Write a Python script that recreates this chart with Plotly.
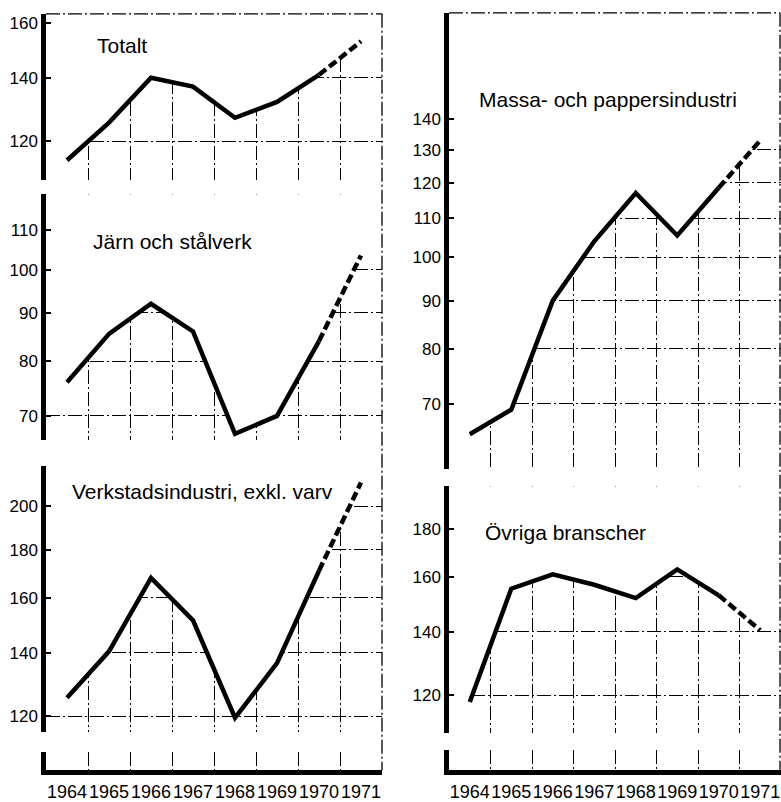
import math
import plotly.graph_objects as go

W, H = 781, 802

# data (index values, log scale)
years = [1964, 1965, 1966, 1967, 1968, 1969, 1970, 1971]
year_labels = ["1964", "1965", "1966", "1967", "1968", "1969", "1970", "1971"]
boundaries = [1964.5, 1965.5, 1966.5, 1967.5, 1968.5, 1969.5, 1970.5]

totalt = [114.5, 125.5, 140, 137, 127, 132, 141, 153]
jarn_stal = [76, 85.5, 92, 86, 67, 70, 84, 103.5]
verkstad = [125.5, 140.5, 168, 151.5, 119.5, 136.5, 171, 212]
massa_papper = [65, 69, 90, 104, 117, 105.5, 118.5, 133]
ovriga = [118, 155.5, 161, 157, 152, 163, 153, 140.5]

ticks_totalt = [120, 140, 160]
ticks_jarn = [70, 80, 90, 100, 110]
ticks_verkstad = [120, 140, 160, 180, 200]
ticks_massa = [70, 80, 90, 100, 110, 120, 130, 140]
ticks_ovriga = [120, 140, 160, 180]

# layout constants (pixels)
PX_PER_DECADE = 958
X_LO, X_HI = 1963.5, 1971.5
LEFT_X = (46, 382)
RIGHT_X = (449, 781)
FONT = "Liberation Sans"
DASHDOT = "14px,3px,2px,3px"


def xp(px):
    return px / W


def yp(py):
    return 1 - py / H


panels = [
    dict(n=1, values=totalt, ticks=ticks_totalt, title="Totalt", xdom=LEFT_X,
         top=14, bottom=182, ref=(120, 143), title_xy=(95, 46)),
    dict(n=2, values=jarn_stal, ticks=ticks_jarn, title="Järn och stålverk", xdom=LEFT_X,
         top=197, bottom=446, ref=(100, 273.3), title_xy=(91, 245)),
    dict(n=3, values=verkstad, ticks=ticks_verkstad, title="Verkstadsindustri, exkl. varv", xdom=LEFT_X,
         top=472, bottom=742, ref=(120, 726), title_xy=(70, 498)),
    dict(n=5, values=massa_papper, ticks=ticks_massa, title="Massa- och pappersindustri", xdom=RIGHT_X,
         top=13, bottom=476, ref=(100, 261), title_xy=(477, 101)),
    dict(n=6, values=ovriga, ticks=ticks_ovriga, title="Övriga branscher", xdom=RIGHT_X,
         top=493, bottom=743, ref=(160, 585), title_xy=(483, 540)),
]

strips = [
    dict(n=4, xdom=LEFT_X, top=762, bottom=781),
    dict(n=7, xdom=RIGHT_X, top=760, bottom=781),
]

grid = dict(gridcolor="black", gridwidth=1.3, griddash=DASHDOT)

fig = go.Figure()
layout = {}
annotations = []

for p in panels:
    n = p["n"]
    xa, ya = f"x{n}", f"y{n}"
    ref_val, ref_px = p["ref"]
    lo = math.log10(ref_val) - (p["bottom"] - ref_px) / PX_PER_DECADE
    hi = math.log10(ref_val) + (ref_px - p["top"]) / PX_PER_DECADE
    vals = p["values"]

    # white area above the curve hides the grid there, as in the original print
    top_val = 10 ** hi
    fig.add_trace(go.Scatter(
        x=[X_LO] + years + [X_HI, X_HI, X_LO],
        y=[vals[0]] + vals + [vals[-1], top_val, top_val],
        fill="toself", fillcolor="white", mode="lines", line=dict(width=0),
        hoverinfo="skip", showlegend=False, xaxis=xa, yaxis=ya))
    fig.add_trace(go.Scatter(
        x=years[:7], y=vals[:7], mode="lines",
        line=dict(color="black", width=4.5), showlegend=False, xaxis=xa, yaxis=ya))
    fig.add_trace(go.Scatter(
        x=years[6:], y=vals[6:], mode="lines",
        line=dict(color="black", width=4.5, dash="9px,4px"), showlegend=False, xaxis=xa, yaxis=ya))

    layout[f"xaxis{n}"] = dict(
        domain=[xp(p["xdom"][0]), xp(p["xdom"][1])], range=[X_LO, X_HI], anchor=ya,
        showline=False, showticklabels=False, ticks="", zeroline=False,
        tickmode="array", tickvals=boundaries, showgrid=True, **grid)
    layout[f"yaxis{n}"] = dict(
        domain=[yp(p["bottom"]), yp(p["top"])], type="log", range=[lo, hi], anchor=xa,
        showline=True, linewidth=4.5, linecolor="black",
        ticks="inside", ticklen=5, tickwidth=1.5, tickcolor="black",
        tickmode="array", tickvals=p["ticks"], ticktext=[str(t) for t in p["ticks"]],
        tickfont=dict(size=17, color="black", family=FONT),
        showgrid=True, zeroline=False, **grid)

    annotations.append(dict(
        text=p["title"], x=xp(p["title_xy"][0]), y=yp(p["title_xy"][1]),
        xref="paper", yref="paper", xanchor="left", yanchor="middle", showarrow=False,
        font=dict(size=21, color="black", family=FONT)))

for s in strips:
    n = s["n"]
    xa, ya = f"x{n}", f"y{n}"
    fig.add_trace(go.Scatter(x=[], y=[], showlegend=False, xaxis=xa, yaxis=ya))
    layout[f"xaxis{n}"] = dict(
        domain=[xp(s["xdom"][0]), xp(s["xdom"][1])], range=[X_LO, X_HI], anchor=ya,
        showline=True, linewidth=4.5, linecolor="black", ticks="", zeroline=False,
        tickmode="array", tickvals=years, ticktext=year_labels, showgrid=False,
        tickangle=0, ticklabelstandoff=1,
        tickfont=dict(size=18, color="black", family=FONT),
        minor=dict(tickmode="array", tickvals=boundaries, showgrid=True, ticks="", **grid))
    layout[f"yaxis{n}"] = dict(
        domain=[yp(s["bottom"]), yp(s["top"])], range=[0, 1], anchor=xa,
        showline=True, linewidth=4.5, linecolor="black",
        showticklabels=False, ticks="", showgrid=False, zeroline=False)

# dash-dot frame: top edge of the upper panels and right edge of each column
border = dict(color="black", width=1.3, dash=DASHDOT)
shapes = [
    dict(type="line", xref="paper", yref="paper", x0=xp(LEFT_X[0]), x1=xp(LEFT_X[1]),
         y0=yp(14), y1=yp(14), line=border),
    dict(type="line", xref="paper", yref="paper", x0=xp(LEFT_X[1]), x1=xp(LEFT_X[1]),
         y0=yp(14), y1=yp(781), line=border),
    dict(type="line", xref="paper", yref="paper", x0=xp(RIGHT_X[0]), x1=xp(780),
         y0=yp(13), y1=yp(13), line=border),
    dict(type="line", xref="paper", yref="paper", x0=xp(780), x1=xp(780),
         y0=yp(13), y1=yp(781), line=border),
]

fig.update_layout(
    width=W, height=H,
    margin=dict(l=0, r=0, t=0, b=0),
    paper_bgcolor="white", plot_bgcolor="white",
    font=dict(family=FONT, color="black"),
    showlegend=False,
    annotations=annotations,
    shapes=shapes,
    **layout,
)

# drop the browser's default body margin so the figure sits at the page corner
fig.write_html("out.html", config={"displayModeBar": False},
               post_script="document.body.style.margin='0';")
